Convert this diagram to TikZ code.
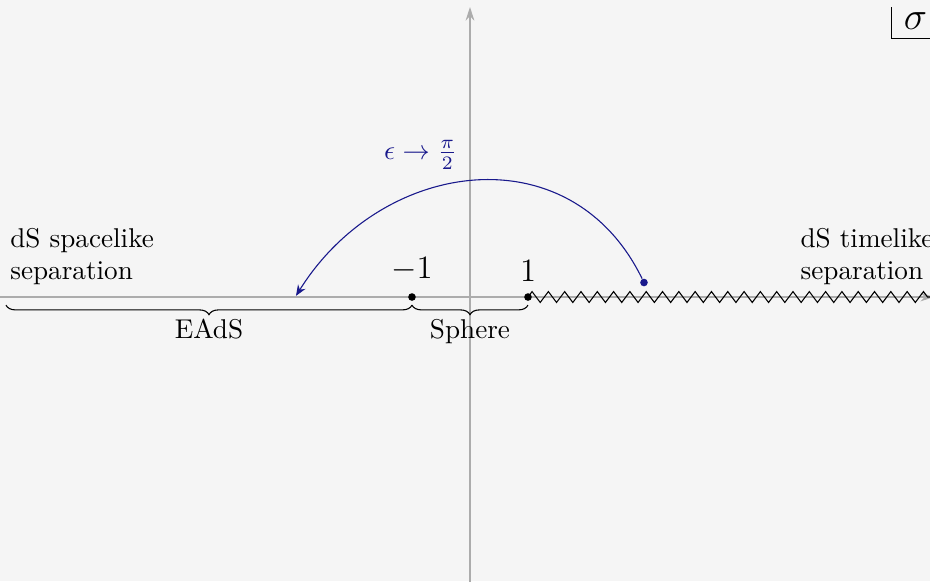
\documentclass[tikz,border=0pt]{standalone}
\usetikzlibrary{arrows.meta,decorations.pathreplacing,decorations.pathmorphing}
\definecolor{bgcol}{HTML}{F5F5F5}
\definecolor{arccol}{rgb}{0.1,0.1,0.55}
\begin{document}
\begin{tikzpicture}[x=0.75cm,y=0.75cm,
  axis/.style={gray!65,-{Stealth[length=5pt,width=3.2pt]}},
  dot/.style={circle,fill,inner sep=0pt,minimum size=2.8pt},
  brc/.style={decorate,decoration={brace,amplitude=3.5pt,mirror}},
  cut/.style={decorate,decoration={zigzag,segment length=6pt,amplitude=2pt}}]
\fill[bgcol] (-8.103,-4.897) rectangle (7.931,5.121);
\useasboundingbox (-8.103,-4.897) rectangle (7.931,5.121);
\clip (-8.103,-4.897) rectangle (7.931,5.121);

% axes
\coordinate (xl) at (-8.3,0);
\coordinate (xr) at (8,0);
\coordinate (yb) at (0,-5);
\coordinate (yt) at (0,5);
\draw[axis] (xl) -- (xr);
\draw[axis] (yb) -- (yt);

% branch points and the cut
\node[dot] (m1) at (-1,0) {};
\node[dot] (p1) at (1,0) {};
\node[anchor=south,yshift=0.5pt] (m1lab) at (m1.north) {\large $-1$};
\node[anchor=south,yshift=0.5pt] (p1lab) at (p1.north) {\large $1$};
\draw[cut] (p1.center) -- (xr);

% regions
\node[anchor=south west,align=left] (spl) at (-8.09,0.04) {dS spacelike\\separation};
\node[anchor=south west,align=left] (tml) at (5.535,0.04) {dS timelike\\separation};

\coordinate (b1) at (-8,-0.14);
\coordinate (b2) at (-1,-0.14);
\coordinate (b3) at (1,-0.14);
\draw[brc] (b1) -- (b2);
\draw[brc] (b2) -- (b3);
\node[anchor=north] (eads) at (-4.5,-0.22) {EAdS};
\node[anchor=north] (sph) at (0,-0.22) {Sphere};

% rotation
\node[dot,arccol] (eps) at (3,0.25) {};
\coordinate (epsend) at (-3,0.02);
\draw[arccol,-{Stealth[length=4pt,width=3.2pt]}] (eps) to[out=116,in=58,looseness=1.2] (epsend);
\node[arccol] (epslab) at (-0.85,2.45) {$\epsilon\to\frac{\pi}{2}$};

% variable
\node (sig) at (7.68,4.76) {\Large $\sigma$};
\coordinate (s1) at (7.26,5);
\coordinate (s2) at (8,4.45);
\draw (s1) |- (s2);
\end{tikzpicture}
\end{document}
